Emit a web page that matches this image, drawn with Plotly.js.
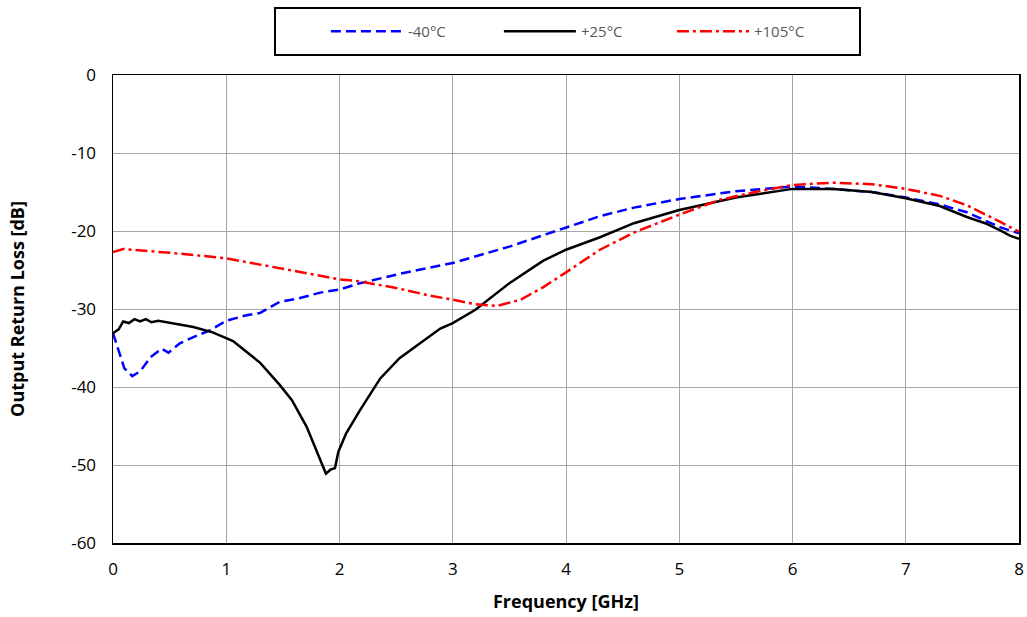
<!DOCTYPE html>
<html>
<head>
<meta charset="utf-8">
<script src="https://cdn.plot.ly/plotly-3.0.1.min.js"></script>
<style>html,body{margin:0;padding:0;background:#fff;}#chart{width:1027px;height:617px;}</style>
</head>
<body>
<div id="chart"></div>
<script>
// -40°C
const freqCold = [0, 0.05, 0.1, 0.17, 0.24, 0.33, 0.43, 0.49, 0.59, 0.71, 0.86, 1.0, 1.18, 1.3, 1.47, 1.65, 1.83, 2.0, 2.18, 2.53, 3.0, 3.5, 4.0, 4.3, 4.6, 5.0, 5.5, 6.0, 6.36, 6.7, 7.0, 7.3, 7.54, 7.83, 8.0];
const rlCold   = [-33.1, -35.5, -37.6, -38.6, -38.0, -36.2, -35.1, -35.6, -34.4, -33.6, -32.7, -31.5, -30.8, -30.5, -29.1, -28.6, -27.9, -27.5, -26.7, -25.5, -24.1, -22.0, -19.6, -18.1, -17.0, -15.9, -14.9, -14.3, -14.6, -15.0, -15.7, -16.6, -17.6, -19.5, -20.3];
// +25°C
const freqRoom = [0, 0.05, 0.09, 0.14, 0.19, 0.24, 0.29, 0.34, 0.4, 0.47, 0.55, 0.71, 0.88, 1.06, 1.12, 1.3, 1.47, 1.58, 1.71, 1.83, 1.88, 1.92, 1.96, 1.99, 2.06, 2.18, 2.36, 2.53, 2.71, 2.89, 3.0, 3.2, 3.5, 3.8, 4.0, 4.3, 4.6, 5.0, 5.5, 6.0, 6.36, 6.7, 7.0, 7.3, 7.54, 7.7, 7.83, 7.92, 8.0];
const rlRoom   = [-33.1, -32.6, -31.6, -31.8, -31.3, -31.6, -31.3, -31.7, -31.5, -31.7, -31.9, -32.3, -33.0, -34.1, -34.8, -36.9, -39.7, -41.7, -45.1, -49.4, -51.1, -50.6, -50.4, -48.3, -45.9, -43.0, -38.9, -36.3, -34.4, -32.5, -31.8, -30.1, -26.7, -23.8, -22.4, -20.8, -19.0, -17.3, -15.7, -14.6, -14.6, -15.0, -15.8, -16.8, -18.2, -19.0, -19.9, -20.6, -21.0];
// +105°C
const freqHot  = [0, 0.09, 0.33, 0.59, 1.0, 1.3, 1.65, 2.0, 2.15, 2.5, 2.8, 3.0, 3.2, 3.39, 3.6, 3.8, 4.0, 4.3, 4.6, 5.0, 5.36, 5.7, 6.0, 6.36, 6.7, 7.0, 7.3, 7.54, 7.83, 8.0];
const rlHot    = [-22.7, -22.3, -22.6, -22.9, -23.5, -24.3, -25.2, -26.2, -26.4, -27.3, -28.3, -28.8, -29.4, -29.6, -28.8, -27.2, -25.3, -22.4, -20.2, -17.9, -16.0, -14.9, -14.1, -13.8, -14.0, -14.6, -15.5, -16.7, -18.8, -20.1];

const seriesNames = ['-40°C', '+25°C', '+105°C'];
const xTicks = [0, 1, 2, 3, 4, 5, 6, 7, 8];
const yTicks = [0, -10, -20, -30, -40, -50, -60];

const traces = [
  {x: freqCold, y: rlCold, name: seriesNames[0], mode: 'lines', line: {color: '#0000ff', width: 2.5, dash: '10px,5px'}},
  {x: freqRoom, y: rlRoom, name: seriesNames[1], mode: 'lines', line: {color: '#000000', width: 2.5}},
  {x: freqHot, y: rlHot, name: seriesNames[2], mode: 'lines', line: {color: '#ff0000', width: 2.5, dash: '12px,4px,3px,4px'}}
];

const layout = {
  width: 1027, height: 617,
  margin: {l: 113, r: 8, t: 75, b: 74},
  paper_bgcolor: '#fff', plot_bgcolor: '#fff',
  font: {family: 'Open Sans, Liberation Sans, sans-serif', color: '#000'},
  showlegend: true,
  legend: {
    orientation: 'h', x: 0.235, xanchor: 'left', y: 1.128, yanchor: 'top',
    borderwidth: 0, bgcolor: 'rgba(0,0,0,0)',
    font: {size: 15, color: '#595959', family: 'Open Sans, sans-serif'},
    entrywidth: 86, itemwidth: 72
  },
  shapes: [{
    type: 'rect', xref: 'paper', yref: 'paper',
    x0: 0.1788, x1: 0.8245, y0: 1.0427, y1: 1.143,
    line: {color: '#000', width: 2}, fillcolor: 'rgba(0,0,0,0)', layer: 'below'
  }],
  xaxis: {
    range: [0, 8], tickvals: xTicks, ticktext: xTicks.map(String),
    showgrid: true, gridcolor: '#a6a6a6', gridwidth: 1,
    showline: true, linecolor: '#000', linewidth: 1.5, mirror: true,
    zeroline: false, ticks: '', tickfont: {size: 17}, ticklabelstandoff: 10,
    title: {text: '<b>Frequency [GHz]</b>', font: {size: 18}, standoff: 16}
  },
  yaxis: {
    range: [-60, 0], tickvals: yTicks, ticktext: yTicks.map(String),
    showgrid: true, gridcolor: '#a6a6a6', gridwidth: 1,
    showline: true, linecolor: '#000', linewidth: 1.5, mirror: true,
    zeroline: false, ticks: '', tickfont: {size: 17}, ticklabelstandoff: 12,
    title: {text: '<b>Output Return Loss [dB]</b>', font: {size: 18}, standoff: 42}
  }
};

Plotly.newPlot('chart', traces, layout, {displayModeBar: false, staticPlot: true});
</script>
</body>
</html>
